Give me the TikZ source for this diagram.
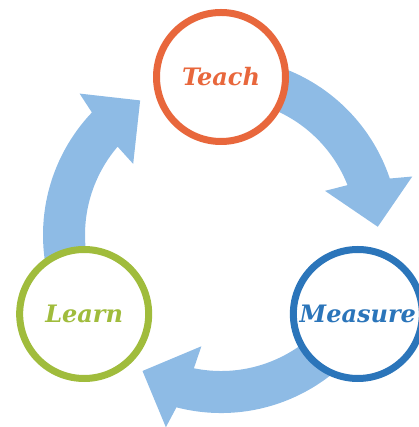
\documentclass[tikz,border=0pt]{standalone}
\usepackage{fontspec}
\setmainfont{DejaVu Serif}
\usetikzlibrary{calc}
\definecolor{orangec}{HTML}{E8673C}
\definecolor{greenc}{HTML}{A0BC3C}
\definecolor{bluec}{HTML}{2B75BA}
\definecolor{arrowc}{HTML}{8EBBE5}
\tikzset{
  ring/.style={circle, draw=#1, text=#1, line width=7pt, fill=white,
    minimum size=129pt, inner sep=0pt,
    font=\fontsize{24}{28}\selectfont\bfseries\itshape},
  arrowfill/.style={fill=arrowc}
}
\begin{document}
\begin{tikzpicture}[x=1pt,y=1pt]
\useasboundingbox (0,0) rectangle (418,427);
\coordinate (c) at (221,192);
\begin{scope}[shift={(c)}]
\foreach \s/\b/\t in {75/20/3, 195/138/121, 345/257/240}{
  \fill[arrowfill] (\s:178) arc[start angle=\s, end angle={\b-1.5}, radius=178]
    -- ({\b-3}:200) -- (\t:157) -- ({\b+3}:113) -- ({\b+1.5}:136)
    arc[start angle={\b+1.5}, end angle=\s, radius=136] -- cycle;
}
\end{scope}
\node[ring=orangec] (teach) at ($(c)+(90:158)$) {Teach};
\node[ring=greenc] (learn) at ($(c)+(210:158)$) {Learn};
\node[ring=bluec] (measure) at ($(c)+(330:158)$) {Measure};
\end{tikzpicture}
\end{document}
